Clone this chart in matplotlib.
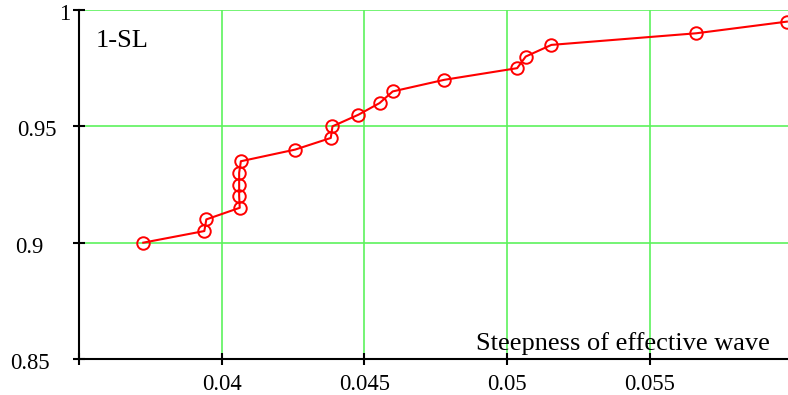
import matplotlib.pyplot as plt
from matplotlib.transforms import ScaledTranslation

plt.rcParams["font.family"] = "serif"
plt.rcParams["font.serif"] = ["Liberation Serif", "DejaVu Serif"]
plt.rcParams["font.size"] = 16

steepness = [0.03725, 0.03939, 0.03946, 0.04063, 0.04061, 0.04061, 0.04061, 0.04067,
             0.04257, 0.04382, 0.04388, 0.04479, 0.04553, 0.04599, 0.0478, 0.05035,
             0.05065, 0.05155, 0.05663, 0.0598]
level = [0.9, 0.905, 0.91, 0.915, 0.92, 0.925, 0.93, 0.935,
         0.94, 0.945, 0.95, 0.955, 0.96, 0.965, 0.97, 0.975,
         0.98, 0.985, 0.99, 0.995]

x_ticks = [0.035, 0.04, 0.045, 0.05, 0.055]
x_labels = ["", "0.04", "0.045", "0.05", "0.055"]
y_ticks = [0.85, 0.9, 0.95, 1.0]
y_labels = ["0.85", "0.9", "0.95", "1"]

fig = plt.figure(figsize=(7.88, 3.95), dpi=100)
ax = fig.add_axes([0.1003, 0.0911, 0.8997, 0.8836])

grid_color = "#5cf25c"
for xv in x_ticks[1:]:
    ax.axvline(xv, color=grid_color, lw=1.2, zorder=1)
for yv in y_ticks[1:]:
    ax.axhline(yv, color=grid_color, lw=1.2, zorder=1)

ax.plot(steepness, level, color="red", lw=1.5, marker="o", markersize=9,
        markerfacecolor="none", markeredgecolor="red", markeredgewidth=1.4, zorder=3)

ax.set_xlim(0.035, 0.05984)
ax.set_ylim(0.85, 1.0)
ax.set_xticks(x_ticks)
ax.set_xticklabels(x_labels)
ax.set_yticks(y_ticks)
ax.set_yticklabels(y_labels)
ax.tick_params(direction="inout", length=9, width=1.5, colors="black", labelsize=16.3)
ax.tick_params(axis="y", pad=2)
ax.tick_params(axis="x", pad=6)

# the y labels sit at uneven distances from the axis
y_shift_px = [-20, -27, -13, 0]
for lab, dx in zip(ax.get_yticklabels(), y_shift_px):
    lab.set_transform(lab.get_transform() + ScaledTranslation(dx / 100, -2 / 100, fig.dpi_scale_trans))

for side in ["top", "right"]:
    ax.spines[side].set_visible(False)
for side in ["left", "bottom"]:
    ax.spines[side].set_linewidth(1.5)
    ax.spines[side].set_zorder(4)

ax.text(0.0356, 0.9865, "1-SL", fontsize=19, ha="left", va="center")
ax.text(0.05921, 0.8539, "Steepness of effective wave", fontsize=19, ha="right", va="baseline")

fig.savefig("out.png", dpi=100)
